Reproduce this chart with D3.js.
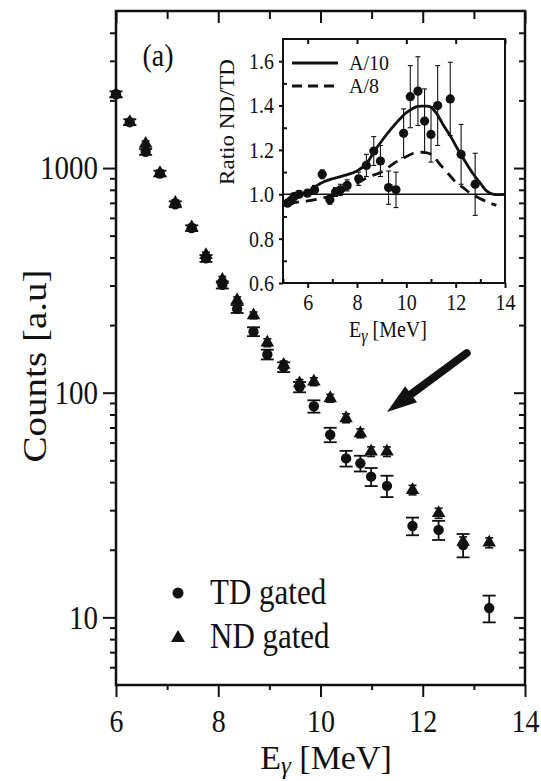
<!DOCTYPE html>
<html>
<head>
<meta charset="utf-8">
<script src="https://cdnjs.cloudflare.com/ajax/libs/d3/7.8.5/d3.min.js"></script>
<style>
    html, body { margin: 0; padding: 0; background: #fff; }
</style>
</head>
<body>
<svg id="chart" width="541" height="781"></svg>
<script>
// main spectrum (E_gamma in MeV, counts in a.u.)
var energy = [6.00, 6.27, 6.58, 6.86, 7.16, 7.48, 7.76, 8.08, 8.37, 8.69, 8.96, 9.28,
    9.59, 9.87, 10.19, 10.50, 10.78, 10.99, 11.30, 11.80, 12.31, 12.79, 13.30];
var tdCounts = [2130, 1600, 1180, 945, 690, 540, 396, 302, 236, 187, 148, 130,
    106, 87, 65, 51, 48.5, 42.3, 38.5, 25.5, 24.5, 21.0, 11.0];
var tdErr = [64, 48, 35, 28, 21, 16, 14, 11, 9.5, 8.5, 7.4, 6.5,
    5.6, 5.5, 4.8, 4.1, 3.9, 3.9, 4.2, 2.3, 2.4, 2.5, 1.5];
var ndCounts = [2130, 1600, 1280, 950, 700, 545, 410, 318, 258, 221, 167, 133,
    110, 112, 94.5, 77, 66, 54.7, 54.7, 36.9, 29.1, 21.7, 21.5];
var ndErr = [64, 48, 38, 28, 21, 16, 12, 11, 9, 7.7, 6.7, 5.3,
    4.4, 4.5, 3.8, 3.5, 3, 2.7, 2.7, 1.8, 1.5, 1.1, 1.1];

// inset: ratio ND/TD
var ratioE = [5.18, 5.31, 5.45, 5.65, 5.99, 6.28, 6.59, 6.90, 7.13, 7.33, 7.60, 8.07, 8.38,
    8.68, 8.95, 9.28, 9.58, 9.89, 10.16, 10.47, 10.74, 11.00, 11.27, 11.78, 12.22, 12.79];
var ratio = [0.96, 0.97, 0.99, 1.00, 1.005, 1.02, 1.09, 0.975, 1.01, 1.02, 1.04, 1.07, 1.13,
    1.195, 1.15, 1.03, 1.02, 1.275, 1.44, 1.465, 1.33, 1.27, 1.40, 1.43, 1.18, 1.045];
var ratioErr = [0.01, 0.01, 0.015, 0.015, 0.015, 0.02, 0.02, 0.02, 0.02, 0.025, 0.025, 0.03, 0.05,
    0.065, 0.07, 0.075, 0.08, 0.11, 0.14, 0.155, 0.145, 0.125, 0.18, 0.165, 0.135, 0.14];

// calculated curves
var fitA10E = [5.18, 5.6, 6.0, 6.53, 7.0, 7.5, 8.0, 8.4, 8.68, 9.0, 9.35, 9.7, 10.03, 10.43,
    10.7, 10.97, 11.25, 11.51, 11.8, 12.05, 12.4, 12.72, 13.0, 13.26, 13.53, 14.0];
var fitA10 = [0.97, 0.99, 1.01, 1.05, 1.07, 1.085, 1.105, 1.14, 1.19, 1.24, 1.29, 1.335, 1.37, 1.395,
    1.397, 1.395, 1.36, 1.31, 1.26, 1.21, 1.145, 1.09, 1.05, 1.014, 1.0, 1.0];
var fitA8E = [5.2, 5.6, 6.0, 6.5, 7.0, 7.5, 8.0, 8.5, 9.0, 9.5, 10.0, 10.3, 10.6, 11.0, 11.4,
    11.8, 12.0, 12.3, 12.6, 13.0, 13.4, 13.65];
var fitA8 = [0.96, 0.965, 0.97, 0.98, 0.995, 1.02, 1.05, 1.08, 1.10, 1.14, 1.17, 1.185, 1.19, 1.18, 1.13,
    1.08, 1.055, 1.03, 1.005, 0.98, 0.96, 0.95];

// ticks and labels
var xTicks = [6, 8, 10, 12, 14];
var xMinor = [7, 9, 11, 13];
var yTicks = [10, 100, 1000];
var yMinor = [6, 7, 8, 9, 20, 30, 40, 50, 60, 70, 80, 90, 200, 300, 400, 500, 600, 700, 800, 900, 2000, 3000, 4000];
var insetXTicks = [6, 8, 10, 12, 14];
var insetXMinor = [5, 7, 9, 11, 13];
var insetYTicks = [0.6, 0.8, 1.0, 1.2, 1.4, 1.6];
var insetYMinor = [0.7, 0.9, 1.1, 1.3, 1.5];
var legendLabels = ["TD gated", "ND gated"];
var fitLabels = ["A/10", "A/8"];

// arrow annotation, data coords (E, counts)
var arrowTail = [12.86, 150];
var arrowTip = [11.30, 82];

var ink = "#111";
var serif = '"Liberation Serif", "DejaVu Serif", "Noto Serif", serif';
var stretch = 1.15;   // the scanned figure has tall lettering
var svg = d3.select("#chart");

var frame = { left: 116, right: 525, top: 11, bottom: 685 };
var x = d3.scaleLinear().domain([6, 14]).range([frame.left, frame.right]);
var y = d3.scaleLog().domain([5, 5000]).range([frame.bottom, frame.top]);

function tidy(g, size) {
    g.select(".domain").remove();
    g.selectAll(".tick line").attr("stroke", ink).attr("stroke-width", 2);
    g.selectAll(".tick text").attr("fill", ink).style("font-size", size + "px")
        .attr("transform", "scale(1," + stretch + ")");
    return g;
}

function place(sel, px, py, s) {
    return sel.attr("transform", "translate(" + px + "," + py + ") scale(1," + (s || stretch) + ")");
}

// ---- main axes
svg.append("g").attr("transform", "translate(0," + frame.bottom + ")")
    .call(d3.axisBottom(x).tickValues(xTicks).tickSize(12).tickPadding(9).tickFormat(d3.format("d")))
    .call(tidy, 28);
svg.append("g").attr("transform", "translate(0," + frame.bottom + ")")
    .call(d3.axisBottom(x).tickValues(xMinor).tickSize(5).tickFormat(""))
    .call(tidy, 0);
svg.append("g").attr("transform", "translate(0," + frame.top + ")")
    .call(d3.axisBottom(x).tickValues(xTicks).tickSize(12).tickFormat(""))
    .call(tidy, 0);
svg.append("g").attr("transform", "translate(0," + frame.top + ")")
    .call(d3.axisBottom(x).tickValues(xMinor).tickSize(8).tickFormat(""))
    .call(tidy, 0);

svg.append("g").attr("transform", "translate(" + frame.left + ",0)")
    .call(d3.axisLeft(y).tickValues(yTicks).tickSize(13).tickPadding(5).tickFormat(d3.format("d")))
    .call(tidy, 29);
svg.append("g").attr("transform", "translate(" + frame.left + ",0)")
    .call(d3.axisLeft(y).tickValues(yMinor).tickSize(6).tickFormat(""))
    .call(tidy, 0);
svg.append("g").attr("transform", "translate(" + frame.right + ",0)")
    .call(d3.axisLeft(y).tickValues(yTicks).tickSize(11).tickFormat(""))
    .call(tidy, 0);
svg.append("g").attr("transform", "translate(" + frame.right + ",0)")
    .call(d3.axisLeft(y).tickValues(yMinor).tickSize(6).tickFormat(""))
    .call(tidy, 0);

svg.append("rect")
    .attr("x", frame.left).attr("y", frame.top)
    .attr("width", frame.right - frame.left).attr("height", frame.bottom - frame.top)
    .attr("fill", "none").attr("stroke", ink).attr("stroke-width", 2.5);

// axis titles
svg.append("text")
    .attr("transform", "translate(46,366) scale(1," + stretch + ") rotate(-90)")
    .attr("text-anchor", "middle").style("font-size", "34px")
    .text("Counts [a.u]");

var xt = svg.append("text")
    .attr("text-anchor", "middle").style("font-size", "34px")
    .call(place, 326, 769, 1);
xt.append("tspan").text("E");
xt.append("tspan").attr("dy", 5).style("font-size", "25px").attr("font-style", "italic").text("γ");
xt.append("tspan").attr("dy", -5).text(" [MeV]");

svg.append("text").attr("text-anchor", "middle").style("font-size", "28px")
    .text("(a)").call(place, 158, 66);

// ---- main data
function errorBars(g, xs, vals, errs, cap, scaleX, scaleY, width) {
    var rows = xs.map(function(d, i) { return [d, vals[i], errs[i]]; });
    var eb = g.append("g").attr("stroke", ink).attr("stroke-width", width);
    eb.selectAll(null).data(rows).enter().append("line")
        .attr("x1", function(d) { return scaleX(d[0]); })
        .attr("x2", function(d) { return scaleX(d[0]); })
        .attr("y1", function(d) { return scaleY(d[1] + d[2]); })
        .attr("y2", function(d) { return scaleY(d[1] - d[2]); });
    [1, -1].forEach(function(s) {
        eb.selectAll(null).data(rows).enter().append("line")
            .attr("x1", function(d) { return scaleX(d[0]) - cap; })
            .attr("x2", function(d) { return scaleX(d[0]) + cap; })
            .attr("y1", function(d) { return scaleY(d[1] + s * d[2]); })
            .attr("y2", function(d) { return scaleY(d[1] + s * d[2]); });
    });
}

var plot = svg.append("g");
errorBars(plot, energy, tdCounts, tdErr, 6.5, x, y, 1.8);
errorBars(plot, energy, ndCounts, ndErr, 4, x, y, 1.6);

plot.selectAll("circle.td").data(energy).enter().append("circle")
    .attr("cx", function(d) { return x(d); })
    .attr("cy", function(d, i) { return y(tdCounts[i]); })
    .attr("r", 5.2).attr("fill", ink);

var tri = d3.symbol().type(d3.symbolTriangle).size(80);
plot.selectAll("path.nd").data(energy).enter().append("path")
    .attr("d", tri)
    .attr("transform", function(d, i) { return "translate(" + x(d) + "," + y(ndCounts[i]) + ")"; })
    .attr("fill", ink);

// legend
var lg = svg.append("g");
lg.append("circle").attr("cx", 178).attr("cy", 593).attr("r", 5.5).attr("fill", ink);
lg.append("path").attr("d", d3.symbol().type(d3.symbolTriangle).size(85))
    .attr("transform", "translate(178,638)").attr("fill", ink);
lg.selectAll("text").data(legendLabels).enter().append("text")
    .style("font-size", "31px").text(function(d) { return d; })
    .each(function(d, i) { place(d3.select(this), 210, 604 + i * 44); });

// arrow
var p0 = [x(arrowTail[0]), y(arrowTail[1])], p1 = [x(arrowTip[0]), y(arrowTip[1])];
var ang = Math.atan2(p1[1] - p0[1], p1[0] - p0[0]);
var headLen = 30, headW = 10;
var base = [p1[0] - headLen * Math.cos(ang), p1[1] - headLen * Math.sin(ang)];
svg.append("line")
    .attr("x1", p0[0]).attr("y1", p0[1]).attr("x2", base[0] + 3 * Math.cos(ang)).attr("y2", base[1] + 3 * Math.sin(ang))
    .attr("stroke", ink).attr("stroke-width", 8).attr("stroke-linecap", "round");
svg.append("path")
    .attr("d", "M" + p1[0] + "," + p1[1] +
        "L" + (base[0] + headW * Math.sin(ang)) + "," + (base[1] - headW * Math.cos(ang)) +
        "L" + (base[0] - headW * Math.sin(ang)) + "," + (base[1] + headW * Math.cos(ang)) + "Z")
    .attr("fill", ink);

// ---- inset
var inset = { left: 283, right: 505, top: 39, bottom: 283 };
var ix = d3.scaleLinear().domain([5, 14]).range([inset.left, inset.right]);
var iy = d3.scaleLinear().domain([0.6, 1.7]).range([inset.bottom, inset.top]);
var ig = svg.append("g");

ig.append("rect")
    .attr("x", inset.left).attr("y", inset.top)
    .attr("width", inset.right - inset.left).attr("height", inset.bottom - inset.top)
    .attr("fill", "#fff");

ig.append("g").attr("transform", "translate(0," + inset.bottom + ")")
    .call(d3.axisBottom(ix).tickValues(insetXTicks).tickSize(5).tickPadding(4).tickFormat(d3.format("d")))
    .call(tidy, 20);
ig.append("g").attr("transform", "translate(0," + inset.bottom + ")")
    .call(d3.axisTop(ix).tickValues(insetXMinor).tickSize(4).tickFormat(""))
    .call(tidy, 0);
ig.append("g").attr("transform", "translate(0," + inset.top + ")")
    .call(d3.axisBottom(ix).tickValues(insetXTicks).tickSize(5).tickFormat(""))
    .call(tidy, 0);
ig.append("g").attr("transform", "translate(" + inset.left + ",0)")
    .call(d3.axisLeft(iy).tickValues(insetYTicks).tickSize(4).tickPadding(5).tickFormat(d3.format(".1f")))
    .call(tidy, 20);
ig.append("g").attr("transform", "translate(" + inset.left + ",0)")
    .call(d3.axisRight(iy).tickValues(insetYMinor).tickSize(4).tickFormat(""))
    .call(tidy, 0);

ig.append("rect")
    .attr("x", inset.left).attr("y", inset.top)
    .attr("width", inset.right - inset.left).attr("height", inset.bottom - inset.top)
    .attr("fill", "none").attr("stroke", ink).attr("stroke-width", 2);

ig.append("line")
    .attr("x1", ix(5)).attr("x2", ix(14)).attr("y1", iy(1)).attr("y2", iy(1))
    .attr("stroke", ink).attr("stroke-width", 1.4);

var curve = d3.line().curve(d3.curveCatmullRom)
    .x(function(d) { return ix(d[0]); })
    .y(function(d) { return iy(d[1]); });

ig.append("path")
    .datum(fitA10E.map(function(d, i) { return [d, fitA10[i]]; }))
    .attr("d", curve).attr("fill", "none").attr("stroke", ink).attr("stroke-width", 2.8);
ig.append("path")
    .datum(fitA8E.map(function(d, i) { return [d, fitA8[i]]; }))
    .attr("d", curve).attr("fill", "none").attr("stroke", ink).attr("stroke-width", 2.8)
    .attr("stroke-dasharray", "11,7");

errorBars(ig, ratioE, ratio, ratioErr, 2.5, ix, iy, 1.1);
ig.selectAll("circle.r").data(ratioE).enter().append("circle")
    .attr("cx", function(d) { return ix(d); })
    .attr("cy", function(d, i) { return iy(ratio[i]); })
    .attr("r", 4.6).attr("fill", ink);

// inset legend
var fl = ig.append("g");
fl.selectAll("line").data(fitLabels).enter().append("line")
    .attr("x1", 292).attr("x2", 338)
    .attr("y1", function(d, i) { return 63 + i * 23; })
    .attr("y2", function(d, i) { return 63 + i * 23; })
    .attr("stroke", ink).attr("stroke-width", 2.8)
    .attr("stroke-dasharray", function(d, i) { return i ? "10,6" : null; });
fl.selectAll("text").data(fitLabels).enter().append("text")
    .style("font-size", "20px").text(function(d) { return d; })
    .each(function(d, i) { place(d3.select(this), 349, 70 + i * 23, 1); });

// inset titles
ig.append("text")
    .attr("transform", "translate(234,122) scale(1," + stretch + ") rotate(-90)")
    .attr("text-anchor", "middle").style("font-size", "20px")
    .text("Ratio ND/TD");
var it = ig.append("text")
    .attr("text-anchor", "middle").style("font-size", "20px")
    .call(place, 388, 337);
it.append("tspan").text("E");
it.append("tspan").attr("dy", 4).style("font-size", "16px").attr("font-style", "italic").text("γ");
it.append("tspan").attr("dy", -4).text(" [MeV]");

// serif everywhere, set inline so nothing overrides it
svg.selectAll("text").style("font-family", serif).attr("fill", ink);
svg.selectAll("g").attr("font-family", null);
</script>
</body>
</html>
